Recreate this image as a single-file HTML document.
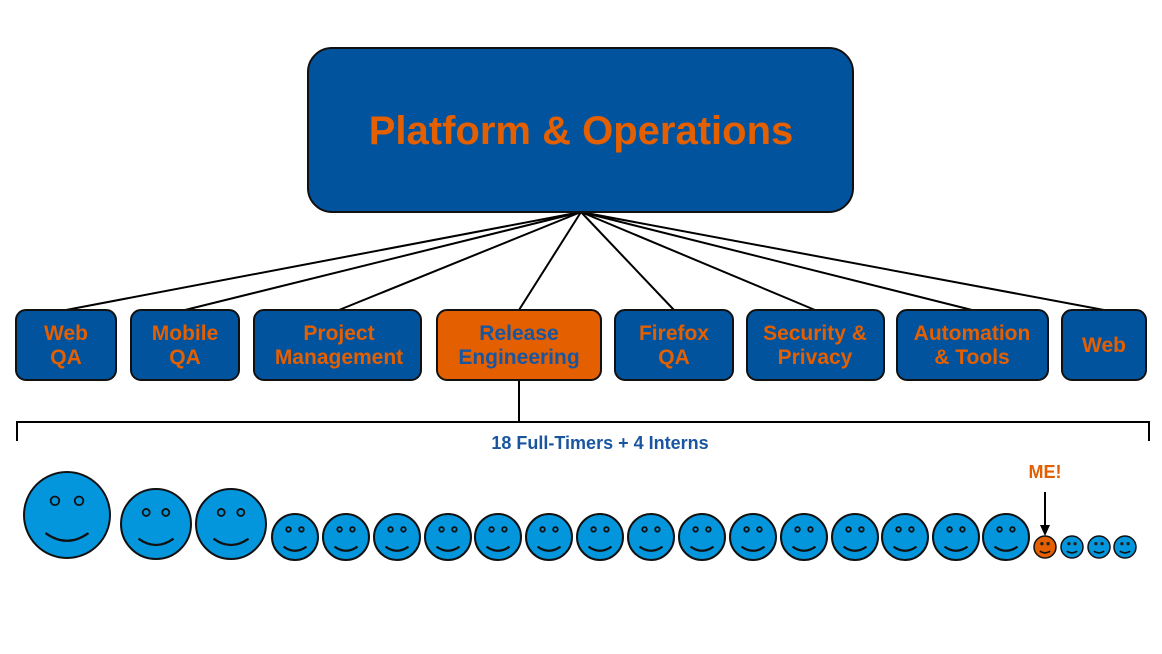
<!DOCTYPE html>
<html><head><style>body{margin:0;background:#fff}svg{display:block}text{font-family:"Liberation Sans",Arial,sans-serif;font-weight:bold}</style></head>
<body>
<svg width="1162" height="654" viewBox="0 0 1162 654" xmlns="http://www.w3.org/2000/svg">
<defs>
<g id="f"><circle r="1" fill="#0396dc" stroke="#111" stroke-width="2" vector-effect="non-scaling-stroke"/><circle cx="-0.28" cy="-0.33" r="0.1" fill="none" stroke="#111" stroke-width="1.8" vector-effect="non-scaling-stroke"/><circle cx="0.28" cy="-0.33" r="0.1" fill="none" stroke="#111" stroke-width="1.8" vector-effect="non-scaling-stroke"/><path d="M-0.5,0.42 Q0,0.78 0.5,0.42" fill="none" stroke="#111" stroke-width="2.2" vector-effect="non-scaling-stroke"/></g>
<g id="o"><circle r="1" fill="#e35f00" stroke="#111" stroke-width="1.5" vector-effect="non-scaling-stroke"/><circle cx="-0.28" cy="-0.3" r="0.15" fill="#222"/><circle cx="0.28" cy="-0.3" r="0.15" fill="#222"/><path d="M-0.47,0.38 Q0,0.7 0.47,0.38" fill="none" stroke="#111" stroke-width="1.5" vector-effect="non-scaling-stroke"/></g>
<g id="i"><circle r="1" fill="#0396dc" stroke="#111" stroke-width="1.5" vector-effect="non-scaling-stroke"/><circle cx="-0.28" cy="-0.3" r="0.15" fill="#222"/><circle cx="0.28" cy="-0.3" r="0.15" fill="#222"/><path d="M-0.47,0.38 Q0,0.7 0.47,0.38" fill="none" stroke="#111" stroke-width="1.5" vector-effect="non-scaling-stroke"/></g>
</defs>
<g stroke="#000" stroke-width="2">
<line x1="581" y1="212" x2="66" y2="310"/><line x1="581" y1="212" x2="185" y2="310"/><line x1="581" y1="212" x2="339" y2="310"/><line x1="581" y1="212" x2="519" y2="310"/><line x1="581" y1="212" x2="674" y2="310"/><line x1="581" y1="212" x2="815" y2="310"/><line x1="581" y1="212" x2="972" y2="310"/><line x1="581" y1="212" x2="1104" y2="310"/>
<line x1="519" y1="380" x2="519" y2="422"/><polyline points="17,441 17,422 1149,422 1149,441" fill="none"/>
</g>
<rect x="308" y="48" width="545" height="164" rx="24" fill="#02539e" stroke="#111" stroke-width="2"/>
<text x="581" y="144" font-size="40" fill="#e35f00" text-anchor="middle">Platform &amp; Operations</text>
<g stroke="#111" stroke-width="2" fill="#02539e">
<rect x="16" y="310" width="100" height="70" rx="10"/><rect x="131" y="310" width="108" height="70" rx="10"/><rect x="254" y="310" width="167" height="70" rx="10"/><rect x="437" y="310" width="164" height="70" rx="10" fill="#e35f00"/><rect x="615" y="310" width="118" height="70" rx="10"/><rect x="747" y="310" width="137" height="70" rx="10"/><rect x="897" y="310" width="151" height="70" rx="10"/><rect x="1062" y="310" width="84" height="70" rx="10"/>
</g>
<g font-size="21" fill="#e35f00" text-anchor="middle">
<text x="66" y="340">Web</text><text x="66" y="364">QA</text>
<text x="185" y="340">Mobile</text><text x="185" y="364">QA</text>
<text x="339" y="340">Project</text><text x="339" y="364">Management</text>
<text x="519" y="340" fill="#1a56a0">Release</text><text x="519" y="364" fill="#1a56a0">Engineering</text>
<text x="674" y="340">Firefox</text><text x="674" y="364">QA</text>
<text x="815" y="340">Security &amp;</text><text x="815" y="364">Privacy</text>
<text x="972" y="340">Automation</text><text x="972" y="364">&amp; Tools</text>
<text x="1104" y="352">Web</text>
</g>
<text x="600" y="449" font-size="18" fill="#1a56a0" text-anchor="middle">18 Full-Timers + 4 Interns</text>
<text x="1045" y="478" font-size="18" fill="#e35f00" text-anchor="middle">ME!</text>
<line x1="1045" y1="492" x2="1045" y2="527" stroke="#000" stroke-width="2"/><polygon points="1040,525 1050,525 1045,536" fill="#000"/>
<use href="#f" transform="translate(67,515) scale(43)"/>
<use href="#f" transform="translate(156,524) scale(35)"/>
<use href="#f" transform="translate(231,524) scale(35)"/>
<use href="#f" transform="translate(295,537) scale(23)"/><use href="#f" transform="translate(346,537) scale(23)"/><use href="#f" transform="translate(397,537) scale(23)"/><use href="#f" transform="translate(448,537) scale(23)"/><use href="#f" transform="translate(498,537) scale(23)"/><use href="#f" transform="translate(549,537) scale(23)"/><use href="#f" transform="translate(600,537) scale(23)"/><use href="#f" transform="translate(651,537) scale(23)"/><use href="#f" transform="translate(702,537) scale(23)"/><use href="#f" transform="translate(753,537) scale(23)"/><use href="#f" transform="translate(804,537) scale(23)"/><use href="#f" transform="translate(855,537) scale(23)"/><use href="#f" transform="translate(905,537) scale(23)"/><use href="#f" transform="translate(956,537) scale(23)"/><use href="#f" transform="translate(1006,537) scale(23)"/>
<use href="#o" transform="translate(1045,547) scale(11)"/>
<use href="#i" transform="translate(1072,547) scale(11)"/><use href="#i" transform="translate(1099,547) scale(11)"/><use href="#i" transform="translate(1125,547) scale(11)"/>
</svg>
</body></html>
